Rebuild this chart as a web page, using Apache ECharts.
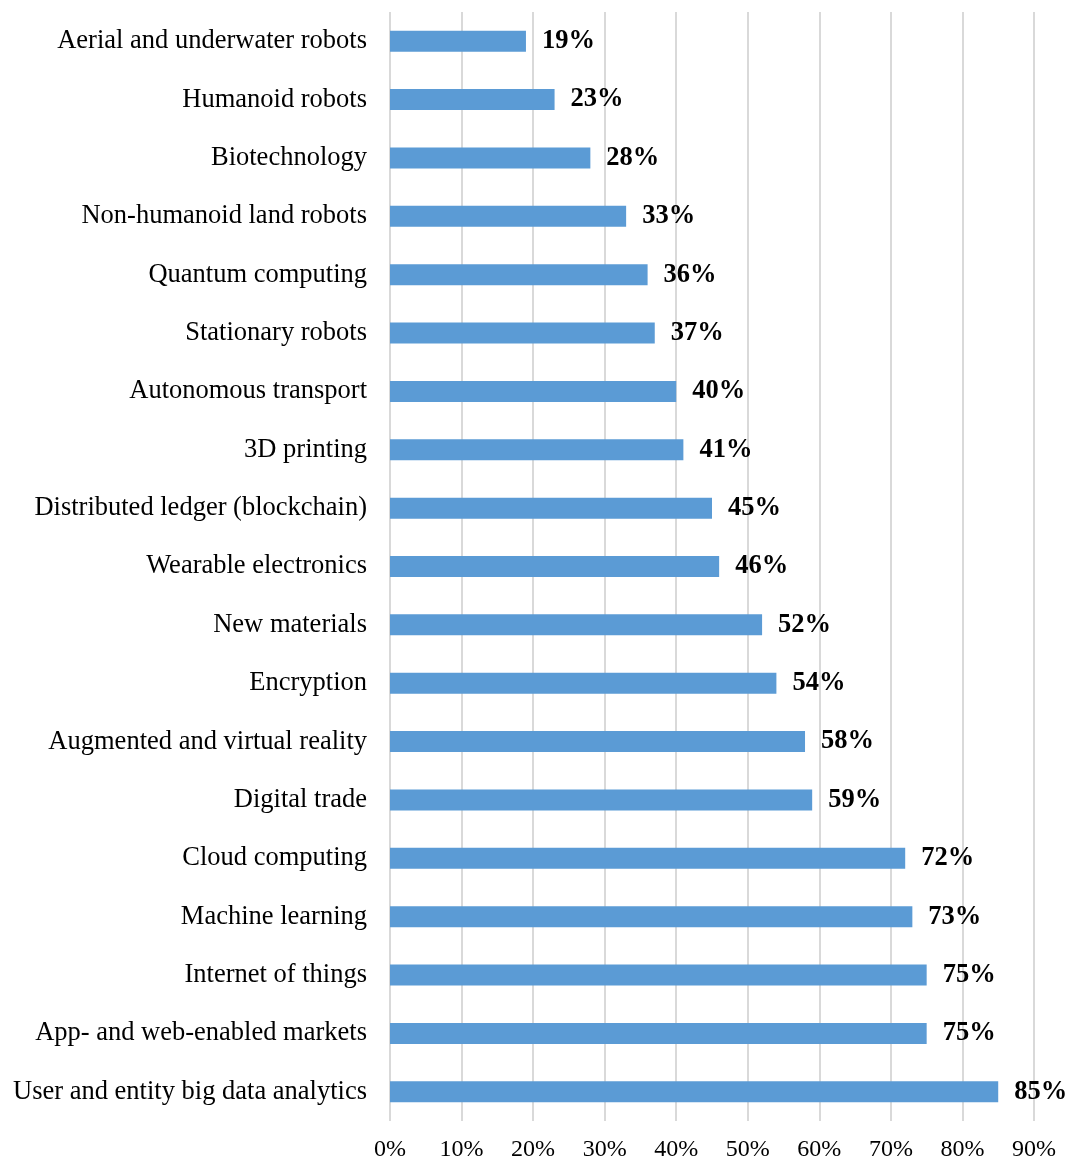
<!DOCTYPE html>
<html>
<head>
<meta charset="utf-8">
<script src="https://cdn.jsdelivr.net/npm/echarts@6/dist/echarts.min.js"></script>
<style>
  html, body { margin: 0; padding: 0; background: #fff; }
  #chart { width: 1072px; height: 1162px; }
</style>
</head>
<body>
<div id="chart"></div>
<script>
var categories = [
    'Aerial and underwater robots',
    'Humanoid robots',
    'Biotechnology',
    'Non-humanoid land robots',
    'Quantum computing',
    'Stationary robots',
    'Autonomous transport',
    '3D printing',
    'Distributed ledger (blockchain)',
    'Wearable electronics',
    'New materials',
    'Encryption',
    'Augmented and virtual reality',
    'Digital trade',
    'Cloud computing',
    'Machine learning',
    'Internet of things',
    'App- and web-enabled markets',
    'User and entity big data analytics'
];
var values = [19, 23, 28, 33, 36, 37, 40, 41, 45, 46, 52, 54, 58, 59, 72, 73, 75, 75, 85];

var font = '"Liberation Serif", "Times New Roman", serif';

chart = echarts.init(document.getElementById('chart'));
chart.setOption({
    animation: false,
    grid: {
        left: 390,
        right: 38,
        top: 12,
        bottom: 39,
        containLabel: false
    },
    xAxis: {
        type: 'value',
        min: 0,
        max: 90,
        interval: 10,
        axisLine: { show: false },
        axisTick: { show: false },
        splitLine: { lineStyle: { color: '#d9d9d9', width: 2 } },
        axisLabel: {
            formatter: '{value}%',
            color: '#000',
            fontFamily: font,
            fontSize: 24,
            margin: 17
        }
    },
    yAxis: {
        type: 'category',
        inverse: true,
        data: categories,
        axisLine: { show: false },
        axisTick: { show: false },
        axisLabel: {
            color: '#000',
            fontFamily: font,
            fontSize: 26.5,
            margin: 23,
            padding: [6, 0, 0, 0]
        }
    },
    series: [
        {
            type: 'bar',
            data: values,
            barWidth: 21,
            itemStyle: { color: '#5b9bd5' },
            label: {
                show: true,
                position: 'right',
                distance: 16,
                formatter: '{c}%',
                color: '#000',
                fontFamily: font,
                fontWeight: 'bold',
                fontSize: 26.5,
                padding: [6, 0, 0, 0]
            }
        }
    ]
});
</script>
</body>
</html>
